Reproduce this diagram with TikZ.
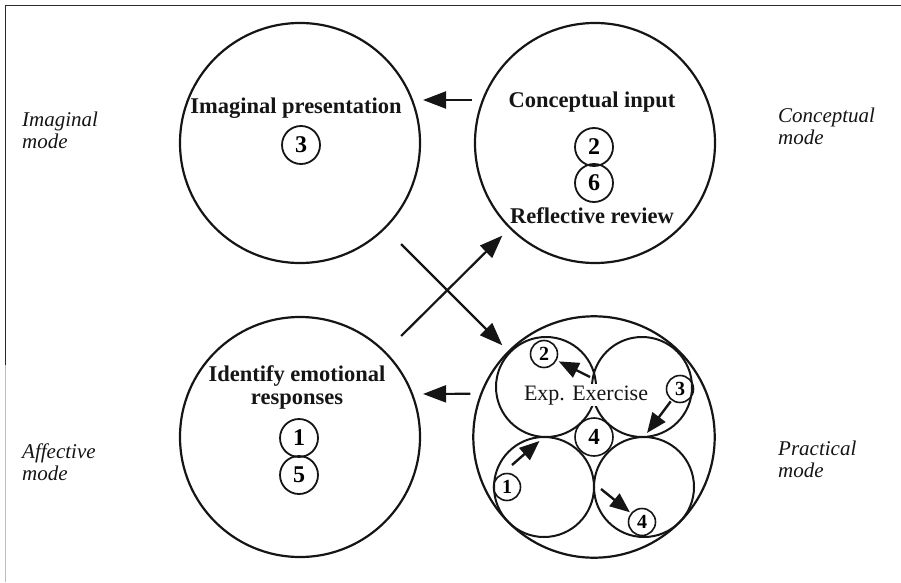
\documentclass[tikz,border=0pt]{standalone}
\usepackage{fontspec}
\setmainfont{Liberation Serif}
\usepackage{xcolor}
\usepackage{tikz}
\usetikzlibrary{arrows.meta,positioning,calc}
\definecolor{Ink}{HTML}{151515}
\definecolor{Frame}{HTML}{2A2A2A}
\definecolor{FrameSoft}{HTML}{BDBDBD}
\tikzset{
  modecircle/.style={circle,draw=Ink,line width=2.2pt,minimum size=240pt,inner sep=0pt,outer sep=0pt},
  subcircle/.style={circle,draw=Ink,line width=2pt,minimum size=100pt,inner sep=0pt,outer sep=0pt},
  stage/.style={circle,draw=Ink,line width=1.8pt,minimum size=38pt,inner sep=0pt,outer sep=0pt,font=\fontsize{24}{24}\selectfont\bfseries},
  substage/.style={stage,line width=1.6pt,minimum size=27pt,font=\fontsize{20}{20}\selectfont\bfseries},
  title/.style={font=\fontsize{22.5}{23}\selectfont\bfseries,align=center,inner sep=0pt,text=Ink,anchor=base},
  side/.style={font=\fontsize{21}{22}\selectfont\itshape,align=left,inner sep=0pt,text=Ink,anchor=base west},
  arrow/.style={-{Triangle[length=23pt,width=17pt]},line width=2.2pt,draw=Ink},
  subarrow/.style={-{Triangle[length=20pt,width=16pt]},line width=2.4pt,draw=Ink}
}

\begin{document}
\begin{tikzpicture}[x=1pt,y=1pt,node distance=0pt]
  \useasboundingbox (0,0) rectangle (901,582);
  \draw[FrameSoft,line width=1pt] (5,0) -- (5,217);
  \draw[Frame,line width=1pt] (5,217) -- (5,576) -- (901,576);

  \node[modecircle] (imag) at (300,439) {};
  \node[modecircle] (concept) at (595,439) {};
  \node[modecircle] (affect) at (300,145) {};
  \node[modecircle,minimum size=241.4pt] (practical) at (594,145) {};

  \node[subcircle] (exTL) at ($(practical)+(-48,50)$) {};
  \node[subcircle] (exTR) at ($(practical)+(48,50)$) {};
  \node[subcircle] (exBL) at ($(practical)+(-50,-50)$) {};
  \node[subcircle] (exBR) at ($(practical)+(50,-50)$) {};

  \node[stage] (three) at ($(imag)+(1,-2)$) {3};
  \node[stage] (two) at ($(concept)+(-1,-4)$) {2};
  \node[stage,below=-2pt of two] (six) {6};
  \node[stage] (one) at ($(affect)+(-1,-1)$) {1};
  \node[stage,below=-1pt of one] (five) {5};

  \node[substage,minimum size=38pt,font=\fontsize{23}{23}\selectfont\bfseries] (fourC) at (practical) {4};
  \node[substage] (twoS) at ($(exTL)+(-2,33)$) {2};
  \node[substage] (threeS) at ($(exTR)+(38,-2)$) {3};
  \node[substage] (oneS) at ($(exBL)+(-37,0)$) {1};
  \node[substage] (fourS) at ($(exBR)+(-2,-35)$) {4};

  \node[title] (imagtext) at (296,468) {Imaginal presentation};
  \node[title] (concepttext) at (592,474) {Conceptual input};
  \node[title] (reviewtext) at (592,359) {Reflective review};
  \node[title] (affecttext) at (297,178) {Identify emotional\\responses};
  \node[title,font=\fontsize{22}{23}\selectfont,fill=white,inner sep=1pt] (extext) at (586,182) {Exp. Exercise};

  \node[side] (imagmode) at (22,433) {Imaginal\\mode};
  \node[side] (conceptmode) at (778,437) {Conceptual\\mode};
  \node[side] (affectmode) at (22,102) {Affective\\mode};
  \node[side] (practmode) at (778,105) {Practical\\mode};

  \coordinate (cusp) at ($(exTL.east)+(-6,10)$);
  \coordinate (oneStart) at ($(oneS)+(5,22)$);
  \coordinate (midBR) at ($(exBR.west)+(7,-2)$);

  \draw[arrow,shorten <=11pt,shorten >=11pt] (concept.159) -- (imag.21);
  \draw[arrow,shorten <=11pt,shorten >=11pt] (practical.159) -- (affect.21);
  \draw[arrow,shorten <=23pt,shorten >=9pt] (imag.-45) -- (practical.135);
  \draw[arrow,shorten <=23pt,shorten >=11pt] (affect.45) -- (concept.-135);

  \draw[subarrow,shorten >=3pt] (cusp) -- (twoS);
  \draw[subarrow,shorten <=2pt,shorten >=5pt] (threeS) -- (exBR.north);
  \draw[subarrow,shorten >=6pt] (oneStart) -- (exBL.north);
  \draw[subarrow,shorten >=2pt] (midBR) -- (fourS);
\end{tikzpicture}
\end{document}
